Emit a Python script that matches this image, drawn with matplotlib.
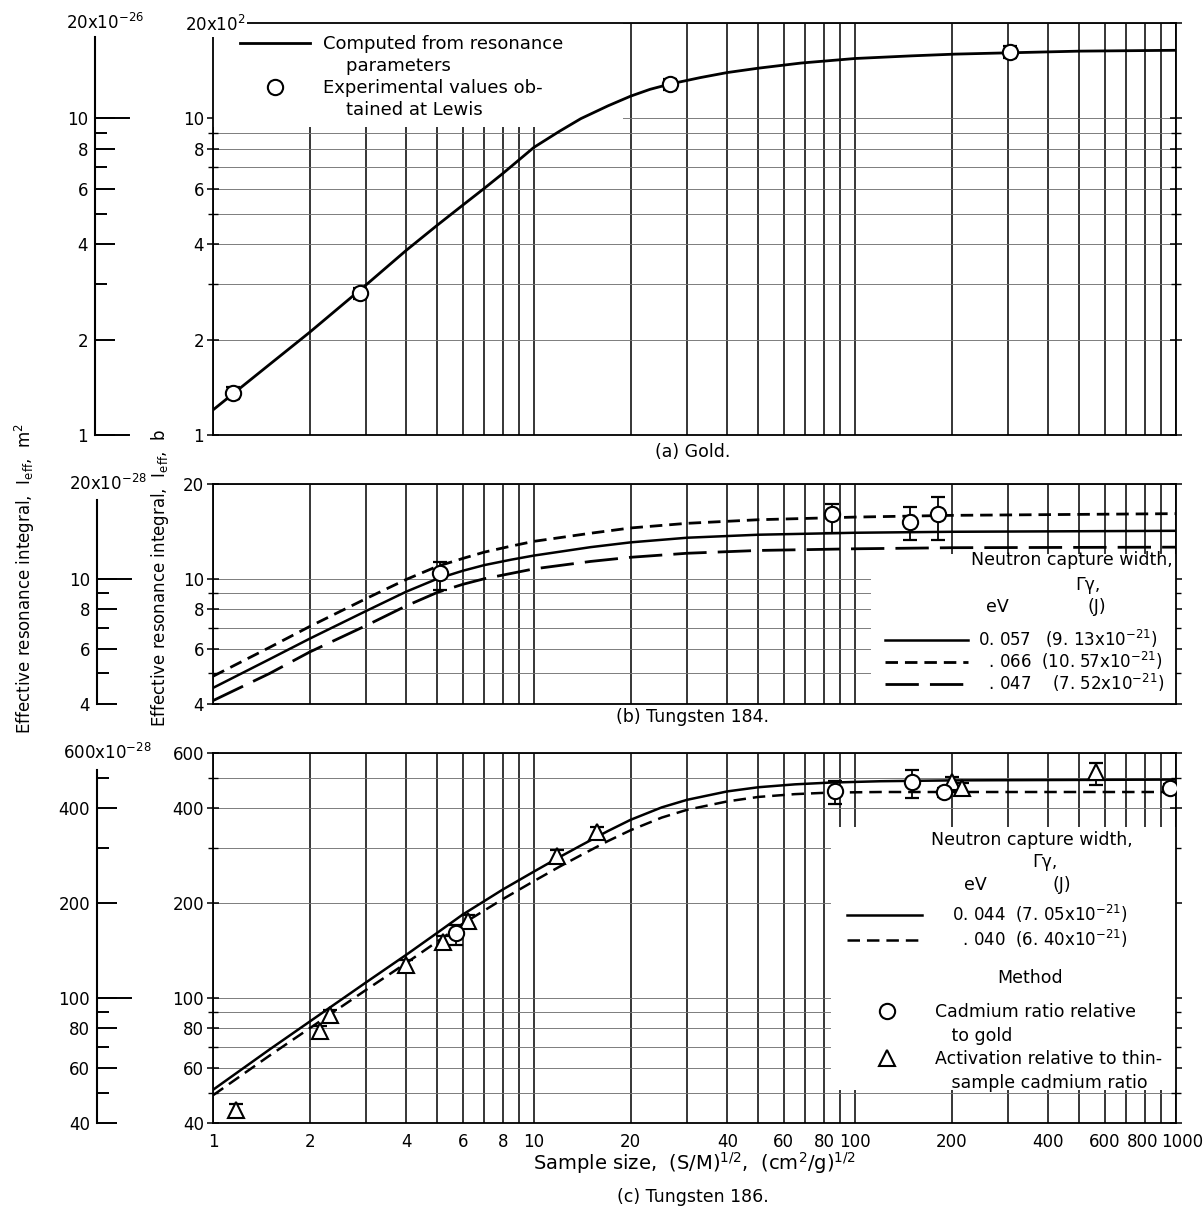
import matplotlib
matplotlib.use('Agg')
import matplotlib.pyplot as plt
from matplotlib.lines import Line2D
from matplotlib.patches import Rectangle
from matplotlib.ticker import FixedLocator, FixedFormatter, NullFormatter
from matplotlib.transforms import ScaledTranslation

W, H = 1203, 1214

plt.rcParams['font.family'] = ['DejaVu Sans']
plt.rcParams['mathtext.fontset'] = 'dejavusans'
plt.rcParams['lines.scale_dashes'] = False

# ---------------- data ----------------
# (a) gold
gold_curve_x = [1, 1.5, 2, 3, 4, 5, 6, 7, 8, 10, 12, 14, 17, 20, 23, 26.6, 33, 40, 50, 68,
                100, 150, 205, 300, 500, 1000]
gold_curve_y = [1.20, 1.67, 2.11, 2.98, 3.83, 4.60, 5.32, 6.01, 6.70, 8.10, 9.10, 9.98, 10.95,
                11.75, 12.35, 12.84, 13.45, 13.95, 14.4, 14.95, 15.45, 15.75, 15.95, 16.1,
                16.3, 16.4]
gold_pts_x = [1.155, 2.88, 26.6, 303]
gold_pts_y = [1.36, 2.80, 12.8, 16.2]
gold_err_lo = [0.06, 0.12, 0.5, 0.7]
gold_err_hi = [0.06, 0.12, 0.5, 0.7]

# (b) tungsten 184
w184_x = [1, 1.5, 2, 3, 4, 5, 6, 7, 8.5, 10, 15, 20, 30, 50, 100, 200, 1000]
w184_057 = [4.5, 5.55, 6.45, 7.9, 9.1, 10.0, 10.6, 11.05, 11.5, 11.85, 12.6, 13.05, 13.5,
            13.8, 14.0, 14.1, 14.2]
w184_066 = [4.9, 6.05, 7.05, 8.65, 9.95, 10.95, 11.6, 12.15, 12.7, 13.15, 13.95, 14.5, 15.0,
            15.4, 15.7, 15.9, 16.1]
w184_047 = [4.1, 5.0, 5.85, 7.1, 8.2, 9.05, 9.6, 10.0, 10.4, 10.75, 11.35, 11.7, 12.05,
            12.3, 12.45, 12.55, 12.6]
w184_pts_x = [5.08, 85, 148, 182]
w184_pts_y = [10.4, 16.1, 15.1, 16.1]
w184_err_lo = [1.2, 2.1, 1.8, 2.8]
w184_err_hi = [0.9, 1.2, 1.8, 2.1]

# (c) tungsten 186
w186_x = [1, 1.5, 2, 3, 4, 5, 6, 8, 10, 12, 14, 17, 20, 25, 30, 40, 50, 65, 83, 120, 200, 1000]
w186_044 = [51, 68.5, 84, 112, 137, 161, 184, 221, 252, 280, 305, 339, 368, 403, 426, 453,
            467, 477, 483, 488, 491, 494]
w186_040 = [49, 65.5, 80, 106, 129, 151, 172, 206, 235, 261, 284, 315, 341, 374, 396, 421,
            435, 444, 449, 451, 451, 451]
cd_x = [5.7, 86.9, 150.7, 190, 958]
cd_y = [161, 453, 484, 450, 463]
cd_err_lo = [14, 40, 51, 15, 15]
cd_err_hi = [10, 37, 46, 15, 15]
act_x = [1.18, 2.16, 2.32, 3.98, 5.19, 6.22, 11.8, 15.7, 201, 216, 562]
act_y = [44, 78.5, 88, 127, 151, 176, 283, 336, 484, 463, 521]
act_err_lo = [2, 3, 3.5, 5, 6, 7, 11, 13, 18, 18, 45]
act_err_hi = [2, 3, 3.5, 5, 6, 7, 11, 13, 18, 18, 38]

x_ticks = [1, 2, 4, 6, 8, 10, 20, 40, 60, 80, 100, 200, 400, 600, 800, 1000]
x_minor = [3, 5, 7, 9, 30, 50, 70, 90, 300, 500, 700, 900]

TICK_FS = 12
TXT_FS = 12.5


def fx(px):
    return px / W


def fy(py):
    return 1 - py / H


def box(l, t, r, b):
    return [fx(l), fy(b), fx(r) - fx(l), fy(t) - fy(b)]


def setup_main(ax, ylim, yticks, ylabels, yminor, show_x):
    ax.set_xscale('log')
    ax.set_yscale('log')
    ax.set_xlim(1, 1000)
    ax.set_ylim(*ylim)
    ax.set_axisbelow(True)
    ax.xaxis.set_major_locator(FixedLocator(x_ticks))
    ax.xaxis.set_minor_locator(FixedLocator(x_minor))
    ax.xaxis.set_minor_formatter(NullFormatter())
    if show_x:
        ax.xaxis.set_major_formatter(FixedFormatter([str(v) for v in x_ticks]))
    else:
        ax.xaxis.set_major_formatter(NullFormatter())
    ax.yaxis.set_major_locator(FixedLocator(yticks))
    ax.yaxis.set_major_formatter(FixedFormatter(ylabels))
    ax.yaxis.set_minor_locator(FixedLocator(yminor))
    ax.yaxis.set_minor_formatter(NullFormatter())
    ax.grid(True, which='both', axis='x', color='k', lw=1.1)
    ax.grid(True, which='both', axis='y', color='0.45', lw=0.65)
    ax.tick_params(axis='x', which='both', length=0, pad=7, labelsize=TICK_FS)
    # ticks straddle the frame on both sides, as on the printed paper
    ax.tick_params(axis='y', which='major', direction='inout', length=9, width=1.1, pad=2,
                   labelsize=TICK_FS, right=True)
    ax.tick_params(axis='y', which='minor', direction='inout', length=7, width=1.0, right=True)
    for s in ax.spines.values():
        s.set_linewidth(1.3)


def setup_si(ax, ylim, yticks, yminor, decades, top_label, top_bound):
    ax.set_yscale('log')
    ax.set_ylim(*ylim)
    ax.patch.set_alpha(0)
    for s in ['top', 'right', 'bottom']:
        ax.spines[s].set_visible(False)
    ax.spines['left'].set_linewidth(1.5)
    ax.spines['left'].set_bounds(ylim[0], top_bound)
    ax.set_xticks([])
    ax.yaxis.set_major_locator(FixedLocator(yticks))
    ax.yaxis.set_major_formatter(FixedFormatter([str(v) for v in yticks]))
    ax.yaxis.set_minor_locator(FixedLocator(yminor))
    ax.yaxis.set_minor_formatter(NullFormatter())
    ax.tick_params(axis='y', which='major', direction='in', length=14.5, width=1.4, pad=5,
                   labelsize=TICK_FS)
    ax.tick_params(axis='y', which='minor', direction='in', length=8.5, width=1.4)
    for d in decades:
        ax.axhline(d, xmin=0, xmax=0.8, color='k', lw=1.4, clip_on=False)
    ax.text(0.25, ylim[1], top_label, transform=ax.get_yaxis_transform(),
            ha='center', va='center', fontsize=TICK_FS)


fig = plt.figure(figsize=(W / 100, H / 100), dpi=100)

ax_a = fig.add_axes(box(213, 23, 1176, 435))
ax_b = fig.add_axes(box(213, 484, 1176, 704))
ax_c = fig.add_axes(box(213, 753, 1176, 1123))

setup_main(ax_a, (1, 20), [1, 2, 4, 6, 8, 10, 20],
           ['1', '2', '4', '6', '8', '10', ''], [3, 5, 7, 9], False)
setup_main(ax_b, (4, 20), [4, 6, 8, 10, 20], ['4', '6', '8', '10', '20'], [5, 7, 9], False)
setup_main(ax_c, (40, 600), [40, 60, 80, 100, 200, 400, 600],
           ['40', '60', '80', '100', '200', '400', '600'], [50, 70, 90, 300, 500], True)

# open top-left corner of (a) where the 20x10^2 label sits
ax_a.spines['left'].set_bounds(1, 18)
ax_a.spines['top'].set_bounds(1.26, 1000)
fig.text(fx(215), fy(25), '20x10$^{2}$', ha='center', va='center', fontsize=TICK_FS,
         bbox=dict(facecolor='white', edgecolor='none', pad=1.5))

si_a = fig.add_axes(box(95, 23, 137, 435))
si_b = fig.add_axes(box(97, 484, 139, 704))
si_c = fig.add_axes(box(97, 753, 139, 1123))
setup_si(si_a, (1, 20), [1, 2, 4, 6, 8, 10], [3, 5, 7, 9], [1, 10], '20x10$^{-26}$', 18)
setup_si(si_b, (4, 20), [4, 6, 8, 10], [5, 7, 9], [10], '20x10$^{-28}$', 17.8)
setup_si(si_c, (40, 600), [40, 60, 80, 100, 200, 400], [50, 70, 90, 300, 500], [100],
         '600x10$^{-28}$', 530)

# white areas behind the keys
ax_a.add_patch(Rectangle((1, 9.4), 18, 10.6, facecolor='white', edgecolor='none', zorder=1))
ax_b.add_patch(Rectangle((112, 4), 888, 8.0, facecolor='white', edgecolor='none', zorder=1))
ax_c.add_patch(Rectangle((84, 51), 916, 299, facecolor='white', edgecolor='none', zorder=1))

eb = dict(fmt='none', ecolor='k', elinewidth=1.3, capsize=5, capthick=1.6, zorder=3)
mk = dict(linestyle='none', mfc='white', mec='k', mew=1.5, ms=11, zorder=4)

# (a)
ax_a.plot(gold_curve_x, gold_curve_y, color='k', lw=2)
ax_a.errorbar(gold_pts_x, gold_pts_y, yerr=[gold_err_lo, gold_err_hi], **eb)
ax_a.plot(gold_pts_x, gold_pts_y, marker='o', **mk)

# (b)
ax_b.plot(w184_x, w184_057, color='k', lw=1.8)
ax_b.plot(w184_x, w184_066, color='k', lw=2, dashes=(9, 5))
ax_b.plot(w184_x, w184_047, color='k', lw=2, dashes=(24, 8))
ax_b.errorbar(w184_pts_x, w184_pts_y, yerr=[w184_err_lo, w184_err_hi], **eb)
ax_b.plot(w184_pts_x, w184_pts_y, marker='o', **mk)

# (c)
ax_c.plot(w186_x, w186_044, color='k', lw=1.8)
ax_c.plot(w186_x, w186_040, color='k', lw=1.8, dashes=(9, 5))
ax_c.errorbar(act_x, act_y, yerr=[act_err_lo, act_err_hi], **eb)
ax_c.plot(act_x, act_y, marker='^', **dict(mk, ms=12))
ax_c.errorbar(cd_x, cd_y, yerr=[cd_err_lo, cd_err_hi], **eb)
ax_c.plot(cd_x, cd_y, marker='o', **mk)

# ---------------- keys ----------------
blank = Line2D([], [], linestyle='none')
circ = Line2D([], [], marker='o', linestyle='none', mfc='white', mec='k', mew=1.5, ms=11)
tri = Line2D([], [], marker='^', linestyle='none', mfc='white', mec='k', mew=1.5, ms=12)

ax_a.legend([Line2D([], [], color='k', lw=2), blank, circ, blank],
            ['Computed from resonance', '    parameters',
             'Experimental values ob-', '    tained at Lewis'],
            loc='upper left', bbox_to_anchor=(fx(240), fy(35)),
            bbox_transform=fig.transFigure, frameon=False, fontsize=13,
            handlelength=3.9, handletextpad=0.7, labelspacing=0.22,
            borderaxespad=0, borderpad=0)

fig.text(fx(1072), fy(560), 'Neutron capture width,', ha='center', va='center', fontsize=TXT_FS)
fig.text(fx(1088), fy(585), 'Γγ,', ha='center', va='center', fontsize=TXT_FS)
fig.text(fx(997), fy(607), 'eV', ha='center', va='center', fontsize=TXT_FS)
fig.text(fx(1097), fy(607), '(J)', ha='center', va='center', fontsize=TXT_FS)
ax_b.legend([Line2D([], [], color='k', lw=1.8),
             Line2D([], [], color='k', lw=2, dashes=(9, 5)),
             Line2D([], [], color='k', lw=2, dashes=(24, 8))],
            ['0. 057   (9. 13x10$^{-21}$)', '  . 066  (10. 57x10$^{-21}$)',
             '  . 047    (7. 52x10$^{-21}$)'],
            loc='upper left', bbox_to_anchor=(fx(885), fy(628)),
            bbox_transform=fig.transFigure, frameon=False, fontsize=12,
            handlelength=5.0, handletextpad=0.6, labelspacing=0.0,
            borderaxespad=0, borderpad=0)

fig.text(fx(1032), fy(840), 'Neutron capture width,', ha='center', va='center', fontsize=TXT_FS)
fig.text(fx(1045), fy(862), 'Γγ,', ha='center', va='center', fontsize=TXT_FS)
fig.text(fx(975), fy(885), 'eV', ha='center', va='center', fontsize=TXT_FS)
fig.text(fx(1062), fy(885), '(J)', ha='center', va='center', fontsize=TXT_FS)
leg_c1 = ax_c.legend([Line2D([], [], color='k', lw=1.8),
                      Line2D([], [], color='k', lw=1.8, dashes=(9, 5))],
                     ['0. 044  (7. 05x10$^{-21}$)', '  . 040  (6. 40x10$^{-21}$)'],
                     loc='upper left', bbox_to_anchor=(fx(847), fy(903)),
                     bbox_transform=fig.transFigure, frameon=False, fontsize=12,
                     handlelength=4.5, handletextpad=1.8, labelspacing=0.15,
                     borderaxespad=0, borderpad=0)
ax_c.add_artist(leg_c1)
fig.text(fx(1030), fy(978), 'Method', ha='center', va='center', fontsize=TXT_FS)
ax_c.legend([circ, blank, tri, blank],
            ['Cadmium ratio relative', '   to gold',
             'Activation relative to thin-', '   sample cadmium ratio'],
            loc='upper left', bbox_to_anchor=(fx(878), fy(1003)),
            bbox_transform=fig.transFigure, frameon=False, fontsize=TXT_FS,
            handlelength=1.0, handletextpad=2.3, labelspacing=0.32,
            borderaxespad=0, borderpad=0)

# ---------------- captions and axis titles ----------------
fig.text(fx(693), fy(452), '(a) Gold.', ha='center', va='center', fontsize=TXT_FS)
fig.text(fx(693), fy(717), '(b) Tungsten 184.', ha='center', va='center', fontsize=TXT_FS)
fig.text(fx(693), fy(1197), '(c) Tungsten 186.', ha='center', va='center', fontsize=TXT_FS)
fig.text(fx(694), fy(1163), 'Sample size,  (S/M)$^{1/2}$,  (cm$^{2}$/g)$^{1/2}$',
         ha='center', va='center', fontsize=14)
fig.text(fx(25), fy(578), 'Effective resonance integral,  I$_{\\mathrm{eff}}$,  m$^{2}$',
         ha='center', va='center', rotation=90, fontsize=12)
fig.text(fx(160), fy(578), 'Effective resonance integral,  I$_{\\mathrm{eff}}$,  b',
         ha='center', va='center', rotation=90, fontsize=12)

# nudge the crowded labels at the right end of the sample-size scale
fig.canvas.draw()
for lab in ax_c.get_xticklabels():
    shift = {'800': -2, '1000': 6}.get(lab.get_text(), 0)
    if shift:
        lab.set_transform(lab.get_transform() + ScaledTranslation(shift / 100, 0, fig.dpi_scale_trans))

fig.savefig('out.png', dpi=100)
